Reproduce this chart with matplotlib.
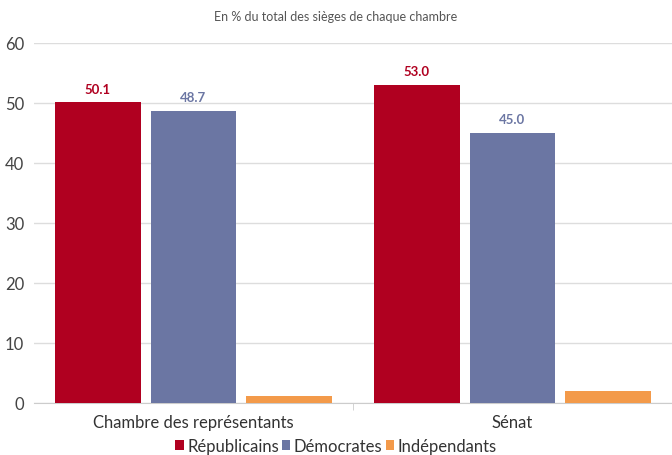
import matplotlib
matplotlib.use("Agg")
import matplotlib.pyplot as plt
import numpy as np

categories = ["Chambre des représentants", "Sénat"]
series_names = ["Républicains", "Démocrates", "Indépendants"]
republicains = [50.1, 53.0]
democrates = [48.7, 45.0]
independants = [1.1, 2.0]
colors = ["#B00020", "#6B76A3", "#F39A4A"]
label_series = [True, True, False]

plt.rcParams['font.family'] = ['Lato', 'DejaVu Sans']

fig = plt.figure(figsize=(6.72, 4.56), dpi=100)
ax = fig.add_axes([34/672, 1 - 404/456, 638/672, 360/456])

x = np.arange(len(categories))
width = 0.269
step = 0.3
data = [republicains, democrates, independants]
for i, (vals, name, col, lab) in enumerate(zip(data, series_names, colors, label_series)):
    pos = x + (i - 1) * step
    ax.bar(pos, vals, width=width, color=col, label=name, zorder=3)
    if lab:
        for xp, v in zip(pos, vals):
            ax.text(xp, v + 1.3, f"{v:.1f}", ha="center", va="bottom",
                    fontsize=9.5, fontweight="bold", color=col)

ax.set_xlim(-0.5, 1.5)
ax.set_ylim(0, 60)
ax.set_yticks(range(0, 61, 10))
ax.set_xticks(x)
ax.set_xticklabels(categories)
ax.set_xticks([0.5], minor=True)
ax.tick_params(axis="x", which="major", length=0, labelsize=12, colors="#333333", pad=8)
ax.tick_params(axis="x", which="minor", length=5, color="#CCCCCC")
ax.tick_params(axis="y", length=0, labelsize=12, labelcolor="#444444", pad=7)
ax.grid(axis="y", color="#DDDDDD", linewidth=1, zorder=0)
for s in ["top", "right", "left"]:
    ax.spines[s].set_visible(False)
ax.spines["bottom"].set_color("#CCCCCC")

fig.text(0.5, 1 - 17/456, "En % du total des sièges de chaque chambre", ha="center", va="center",
         fontsize=9, color="#555555")

handles, labels = ax.get_legend_handles_labels()
leg = fig.legend(handles, labels, loc="center", bbox_to_anchor=(0.5, 1 - 447/456), ncol=3,
                 frameon=False, fontsize=12, handlelength=0.5, handleheight=0.5,
                 handletextpad=0.2, columnspacing=0.2)
for t in leg.get_texts():
    t.set_color("#333333")

fig.savefig("out.png", dpi=100)
